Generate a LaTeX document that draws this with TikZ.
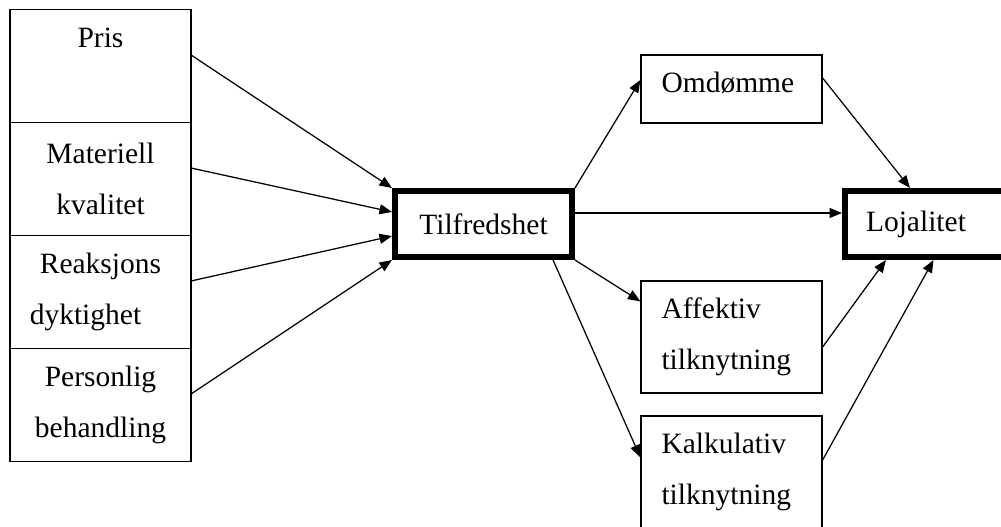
\documentclass[tikz,border=0pt]{standalone}
\usepackage{fontspec}
\setmainfont{Liberation Serif}
\usetikzlibrary{arrows.meta,calc,positioning}
\tikzset{
  factor/.style={draw,line width=0.5pt,minimum width=72.4pt,minimum height=45.2pt,
    inner sep=0pt,outer sep=0pt,align=center},
  core/.style={draw,line width=2.4pt,minimum width=70.8pt,minimum height=26.4pt},
  mediator/.style={draw,line width=0.5pt,minimum width=72.4pt,minimum height=44.8pt,
    inner sep=0pt,text width=56pt,align=left},
  link/.style={-{Triangle[length=5pt,width=4pt]},line width=0.5pt},
  every node/.style={font=\fontsize{11.8pt}{20.4pt}\selectfont}
}

\begin{document}
\begin{tikzpicture}[x=0.4pt,y=-0.4pt]
  \useasboundingbox (0,0) rectangle (1001,527);
  \clip (0,0) rectangle (1001,527);

  % Drivers
  \node[factor] (pris) at (100.5,66) {Pris\\ \phantom{kg}};
  \node[factor,below=0pt of pris] (mat) {Materiell\\kvalitet};
  \node[factor,below=0pt of mat] (reak) {Reaksjons\\dyktighet\hspace*{12pt}};
  \node[factor,below=0pt of reak] (pers) {Personlig\\behandling};

  % Core constructs
  \node[core] (tilf) at (483.5,224) {Tilfredshet};
  \node[core,text width=54pt,align=left] (loj) at (933.5,224) {Lojalitet};

  % Mediators
  \node[mediator,minimum height=27.2pt] (omd) at (731.5,89)
    {\raisebox{2.4pt}[\height][\depth]{Omdømme}};
  \node[mediator] (aff) at (731.5,337) {Affektiv\\tilknytning};
  \node[mediator] (kalk) at (731.5,472) {Kalkulativ\\tilknytning};

  % Paths
  \foreach \n/\f in {pris/0,mat/0.333,reak/0.667,pers/1}
    \draw[link] ([yshift=4.4pt]\n.east) -- ($(tilf.north west)!\f!(tilf.south west)$);
  \draw[link] (tilf.north east) -- ([yshift=3.6pt]omd.west);
  \draw[link] ([yshift=4.4pt]tilf.east) -- ([yshift=4.4pt]loj.west);
  \draw[link] (tilf.south east) -- ([yshift=-8.4pt]aff.north west);
  \draw[link] ($(tilf.south west)!0.88!(tilf.south east)$) -- ([yshift=-16.8pt]kalk.north west);
  \draw[link] ([yshift=4.4pt]omd.east) -- ([xshift=-9.4pt]loj.north);
  \draw[link] ([yshift=-4pt]aff.east) -- ($(loj.south west)!0.24!(loj.south east)$);
  \draw[link] ([yshift=4.8pt]kalk.east) -- (loj.south);
\end{tikzpicture}
\end{document}
